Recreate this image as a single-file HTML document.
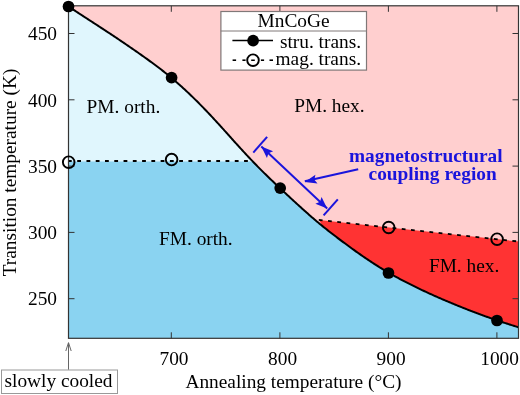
<!DOCTYPE html>
<html><head><meta charset="utf-8"><style>
html,body{margin:0;padding:0;background:#fff;}
svg{display:block;will-change:transform;font-family:"Liberation Serif",serif;font-size:19.35px;}
</style></head><body>
<svg width="520" height="395" viewBox="0 0 520 395">
<defs><clipPath id="c"><rect x="68.5" y="5.8" width="450.0" height="332.5"/></clipPath></defs>
<rect x="68.5" y="5.8" width="450.0" height="332.5" fill="#ffcfcf"/>
<g clip-path="url(#c)">
<path d="M66.50,5.21 L67.50,5.87 L68.50,6.52 L69.50,7.18 L70.50,7.83 L71.50,8.49 L72.50,9.14 L73.50,9.80 L74.50,10.45 L75.50,11.10 L76.50,11.76 L77.50,12.41 L78.50,13.06 L79.50,13.72 L80.50,14.37 L81.50,15.02 L82.50,15.68 L83.50,16.33 L84.50,16.98 L85.50,17.63 L86.50,18.28 L87.50,18.93 L88.50,19.58 L89.50,20.23 L90.50,20.88 L91.50,21.53 L92.50,22.18 L93.50,22.83 L94.50,23.48 L95.50,24.13 L96.50,24.78 L97.50,25.43 L98.50,26.08 L99.50,26.74 L100.50,27.39 L101.50,28.04 L102.50,28.69 L103.50,29.35 L104.50,30.00 L105.50,30.66 L106.50,31.32 L107.50,31.97 L108.50,32.63 L109.50,33.29 L110.50,33.95 L111.50,34.62 L112.50,35.28 L113.50,35.95 L114.50,36.61 L115.50,37.28 L116.50,37.95 L117.50,38.62 L118.50,39.29 L119.50,39.97 L120.50,40.64 L121.50,41.32 L122.50,41.99 L123.50,42.67 L124.50,43.35 L125.50,44.03 L126.50,44.71 L127.50,45.39 L128.50,46.08 L129.50,46.76 L130.50,47.45 L131.50,48.14 L132.50,48.83 L133.50,49.52 L134.50,50.21 L135.50,50.90 L136.50,51.60 L137.50,52.30 L138.50,53.00 L139.50,53.70 L140.50,54.40 L141.50,55.11 L142.50,55.81 L143.50,56.52 L144.50,57.24 L145.50,57.95 L146.50,58.67 L147.50,59.39 L148.50,60.11 L149.50,60.84 L150.50,61.57 L151.50,62.30 L152.50,63.04 L153.50,63.77 L154.50,64.52 L155.50,65.26 L156.50,66.01 L157.50,66.77 L158.50,67.53 L159.50,68.29 L160.50,69.06 L161.50,69.83 L162.50,70.61 L163.50,71.40 L164.50,72.19 L165.50,72.98 L166.50,73.78 L167.50,74.59 L168.50,75.40 L169.50,76.22 L170.50,77.05 L171.50,77.88 L172.50,78.72 L173.50,79.57 L174.50,80.43 L175.50,81.29 L176.50,82.16 L177.50,83.03 L178.50,83.91 L179.50,84.80 L180.50,85.69 L181.50,86.60 L182.50,87.50 L183.50,88.42 L184.50,89.33 L185.50,90.26 L186.50,91.19 L187.50,92.13 L188.50,93.07 L189.50,94.02 L190.50,94.97 L191.50,95.94 L192.50,96.90 L193.50,97.87 L194.50,98.85 L195.50,99.84 L196.50,100.83 L197.50,101.82 L198.50,102.82 L199.50,103.83 L200.50,104.84 L201.50,105.86 L202.50,106.89 L203.50,107.92 L204.50,108.95 L205.50,110.00 L206.50,111.04 L207.50,112.09 L208.50,113.15 L209.50,114.21 L210.50,115.27 L211.50,116.34 L212.50,117.41 L213.50,118.49 L214.50,119.57 L215.50,120.66 L216.50,121.75 L217.50,122.84 L218.50,123.93 L219.50,125.03 L220.50,126.13 L221.50,127.24 L222.50,128.34 L223.50,129.45 L224.50,130.56 L225.50,131.68 L226.50,132.79 L227.50,133.91 L228.50,135.02 L229.50,136.14 L230.50,137.25 L231.50,138.37 L232.50,139.48 L233.50,140.59 L234.50,141.71 L235.50,142.82 L236.50,143.92 L237.50,145.03 L238.50,146.13 L239.50,147.23 L240.50,148.33 L241.50,149.42 L242.50,150.51 L243.50,151.60 L244.50,152.68 L245.50,153.76 L246.50,154.83 L247.50,155.90 L248.50,156.97 L249.50,158.03 L250.50,159.08 L251.50,160.14 L252.50,161.18 L253.50,162.23 L254.50,163.26 L255.50,164.30 L256.50,165.32 L257.50,166.35 L258.50,167.36 L259.50,168.37 L260.50,169.38 L261.50,170.38 L262.50,171.38 L263.50,172.37 L264.50,173.35 L265.50,174.33 L266.50,175.31 L267.50,176.28 L268.50,177.25 L269.50,178.22 L270.50,179.18 L271.50,180.13 L272.50,181.09 L273.50,182.04 L274.50,182.99 L275.50,183.94 L276.50,184.88 L277.50,185.83 L278.50,186.77 L279.50,187.71 L280.50,188.64 L281.50,189.58 L282.50,190.52 L283.50,191.45 L284.50,192.39 L285.50,193.32 L286.50,194.25 L287.50,195.18 L288.50,196.10 L289.50,197.03 L290.50,197.95 L291.50,198.88 L292.50,199.80 L293.50,200.72 L294.50,201.63 L295.50,202.55 L296.50,203.46 L297.50,204.38 L298.50,205.29 L299.50,206.19 L300.50,207.10 L301.50,208.00 L302.50,208.90 L303.50,209.80 L304.50,210.70 L305.50,211.59 L306.50,212.48 L307.50,213.37 L308.50,214.25 L309.50,215.13 L310.50,216.01 L311.50,216.88 L312.50,217.74 L313.50,218.61 L314.50,219.46 L315.50,220.32 L316.50,221.16 L317.50,222.01 L318.50,222.84 L319.50,223.68 L320.50,224.50 L321.50,225.32 L322.50,226.14 L323.50,226.95 L324.50,227.75 L325.50,228.55 L326.50,229.34 L327.50,230.13 L328.50,230.92 L329.50,231.70 L330.50,232.48 L331.50,233.25 L332.50,234.02 L333.50,234.79 L334.50,235.55 L335.50,236.31 L336.50,237.07 L337.50,237.83 L338.50,238.58 L339.50,239.33 L340.50,240.08 L341.50,240.83 L342.50,241.58 L343.50,242.33 L344.50,243.07 L345.50,243.81 L346.50,244.55 L347.50,245.29 L348.50,246.02 L349.50,246.76 L350.50,247.49 L351.50,248.22 L352.50,248.94 L353.50,249.66 L354.50,250.38 L355.50,251.10 L356.50,251.81 L357.50,252.52 L358.50,253.23 L359.50,253.94 L360.50,254.64 L361.50,255.34 L362.50,256.03 L363.50,256.72 L364.50,257.41 L365.50,258.09 L366.50,258.77 L367.50,259.44 L368.50,260.12 L369.50,260.78 L370.50,261.45 L371.50,262.10 L372.50,262.76 L373.50,263.41 L374.50,264.06 L375.50,264.70 L376.50,265.34 L377.50,265.97 L378.50,266.60 L379.50,267.23 L380.50,267.85 L381.50,268.46 L382.50,269.08 L383.50,269.68 L384.50,270.29 L385.50,270.88 L386.50,271.48 L387.50,272.07 L388.50,272.65 L389.50,273.23 L390.50,273.80 L391.50,274.37 L392.50,274.94 L393.50,275.50 L394.50,276.06 L395.50,276.61 L396.50,277.16 L397.50,277.70 L398.50,278.24 L399.50,278.78 L400.50,279.32 L401.50,279.85 L402.50,280.37 L403.50,280.90 L404.50,281.42 L405.50,281.93 L406.50,282.45 L407.50,282.96 L408.50,283.47 L409.50,283.98 L410.50,284.48 L411.50,284.98 L412.50,285.48 L413.50,285.97 L414.50,286.46 L415.50,286.95 L416.50,287.44 L417.50,287.93 L418.50,288.41 L419.50,288.89 L420.50,289.37 L421.50,289.84 L422.50,290.31 L423.50,290.78 L424.50,291.25 L425.50,291.71 L426.50,292.18 L427.50,292.64 L428.50,293.10 L429.50,293.55 L430.50,294.01 L431.50,294.46 L432.50,294.91 L433.50,295.36 L434.50,295.81 L435.50,296.25 L436.50,296.69 L437.50,297.13 L438.50,297.57 L439.50,298.01 L440.50,298.44 L441.50,298.88 L442.50,299.31 L443.50,299.74 L444.50,300.17 L445.50,300.59 L446.50,301.02 L447.50,301.44 L448.50,301.86 L449.50,302.28 L450.50,302.70 L451.50,303.12 L452.50,303.53 L453.50,303.94 L454.50,304.36 L455.50,304.77 L456.50,305.17 L457.50,305.58 L458.50,305.99 L459.50,306.39 L460.50,306.79 L461.50,307.19 L462.50,307.59 L463.50,307.99 L464.50,308.38 L465.50,308.78 L466.50,309.17 L467.50,309.56 L468.50,309.95 L469.50,310.34 L470.50,310.72 L471.50,311.11 L472.50,311.49 L473.50,311.87 L474.50,312.25 L475.50,312.63 L476.50,313.01 L477.50,313.38 L478.50,313.76 L479.50,314.13 L480.50,314.50 L481.50,314.87 L482.50,315.24 L483.50,315.61 L484.50,315.97 L485.50,316.33 L486.50,316.69 L487.50,317.05 L488.50,317.41 L489.50,317.76 L490.50,318.12 L491.50,318.47 L492.50,318.82 L493.50,319.16 L494.50,319.51 L495.50,319.85 L496.50,320.19 L497.50,320.53 L498.50,320.87 L499.50,321.20 L500.50,321.53 L501.50,321.86 L502.50,322.19 L503.50,322.52 L504.50,322.84 L505.50,323.17 L506.50,323.49 L507.50,323.81 L508.50,324.13 L509.50,324.45 L510.50,324.77 L511.50,325.09 L512.50,325.41 L513.50,325.72 L514.50,326.04 L515.50,326.35 L516.50,326.67 L517.50,326.98 L518.50,327.30 L519.50,327.61 L520.50,327.93 L520.5,340.3 L66.5,340.3 Z" fill="#8ad3f1"/>
<path d="M66.50,5.21 L67.50,5.87 L68.50,6.52 L69.50,7.18 L70.50,7.83 L71.50,8.49 L72.50,9.14 L73.50,9.80 L74.50,10.45 L75.50,11.10 L76.50,11.76 L77.50,12.41 L78.50,13.06 L79.50,13.72 L80.50,14.37 L81.50,15.02 L82.50,15.68 L83.50,16.33 L84.50,16.98 L85.50,17.63 L86.50,18.28 L87.50,18.93 L88.50,19.58 L89.50,20.23 L90.50,20.88 L91.50,21.53 L92.50,22.18 L93.50,22.83 L94.50,23.48 L95.50,24.13 L96.50,24.78 L97.50,25.43 L98.50,26.08 L99.50,26.74 L100.50,27.39 L101.50,28.04 L102.50,28.69 L103.50,29.35 L104.50,30.00 L105.50,30.66 L106.50,31.32 L107.50,31.97 L108.50,32.63 L109.50,33.29 L110.50,33.95 L111.50,34.62 L112.50,35.28 L113.50,35.95 L114.50,36.61 L115.50,37.28 L116.50,37.95 L117.50,38.62 L118.50,39.29 L119.50,39.97 L120.50,40.64 L121.50,41.32 L122.50,41.99 L123.50,42.67 L124.50,43.35 L125.50,44.03 L126.50,44.71 L127.50,45.39 L128.50,46.08 L129.50,46.76 L130.50,47.45 L131.50,48.14 L132.50,48.83 L133.50,49.52 L134.50,50.21 L135.50,50.90 L136.50,51.60 L137.50,52.30 L138.50,53.00 L139.50,53.70 L140.50,54.40 L141.50,55.11 L142.50,55.81 L143.50,56.52 L144.50,57.24 L145.50,57.95 L146.50,58.67 L147.50,59.39 L148.50,60.11 L149.50,60.84 L150.50,61.57 L151.50,62.30 L152.50,63.04 L153.50,63.77 L154.50,64.52 L155.50,65.26 L156.50,66.01 L157.50,66.77 L158.50,67.53 L159.50,68.29 L160.50,69.06 L161.50,69.83 L162.50,70.61 L163.50,71.40 L164.50,72.19 L165.50,72.98 L166.50,73.78 L167.50,74.59 L168.50,75.40 L169.50,76.22 L170.50,77.05 L171.50,77.88 L172.50,78.72 L173.50,79.57 L174.50,80.43 L175.50,81.29 L176.50,82.16 L177.50,83.03 L178.50,83.91 L179.50,84.80 L180.50,85.69 L181.50,86.60 L182.50,87.50 L183.50,88.42 L184.50,89.33 L185.50,90.26 L186.50,91.19 L187.50,92.13 L188.50,93.07 L189.50,94.02 L190.50,94.97 L191.50,95.94 L192.50,96.90 L193.50,97.87 L194.50,98.85 L195.50,99.84 L196.50,100.83 L197.50,101.82 L198.50,102.82 L199.50,103.83 L200.50,104.84 L201.50,105.86 L202.50,106.89 L203.50,107.92 L204.50,108.95 L205.50,110.00 L206.50,111.04 L207.50,112.09 L208.50,113.15 L209.50,114.21 L210.50,115.27 L211.50,116.34 L212.50,117.41 L213.50,118.49 L214.50,119.57 L215.50,120.66 L216.50,121.75 L217.50,122.84 L218.50,123.93 L219.50,125.03 L220.50,126.13 L221.50,127.24 L222.50,128.34 L223.50,129.45 L224.50,130.56 L225.50,131.68 L226.50,132.79 L227.50,133.91 L228.50,135.02 L229.50,136.14 L230.50,137.25 L231.50,138.37 L232.50,139.48 L233.50,140.59 L234.50,141.71 L235.50,142.82 L236.50,143.92 L237.50,145.03 L238.50,146.13 L239.50,147.23 L240.50,148.33 L241.50,149.42 L242.50,150.51 L243.50,151.60 L244.50,152.68 L245.50,153.76 L246.50,154.83 L247.50,155.90 L248.50,156.97 L249.50,158.03 L250.50,159.08 L251.50,160.14 L252.50,161.18 L252.50,161.60 L66.50,161.60 Z" fill="#e0f6fd"/>
<path d="M319.30,220.00 L520.50,241.74 L520.50,327.93 L520.50,327.93 L519.50,327.61 L518.50,327.30 L517.50,326.98 L516.50,326.67 L515.50,326.35 L514.50,326.04 L513.50,325.72 L512.50,325.41 L511.50,325.09 L510.50,324.77 L509.50,324.45 L508.50,324.13 L507.50,323.81 L506.50,323.49 L505.50,323.17 L504.50,322.84 L503.50,322.52 L502.50,322.19 L501.50,321.86 L500.50,321.53 L499.50,321.20 L498.50,320.87 L497.50,320.53 L496.50,320.19 L495.50,319.85 L494.50,319.51 L493.50,319.16 L492.50,318.82 L491.50,318.47 L490.50,318.12 L489.50,317.76 L488.50,317.41 L487.50,317.05 L486.50,316.69 L485.50,316.33 L484.50,315.97 L483.50,315.61 L482.50,315.24 L481.50,314.87 L480.50,314.50 L479.50,314.13 L478.50,313.76 L477.50,313.38 L476.50,313.01 L475.50,312.63 L474.50,312.25 L473.50,311.87 L472.50,311.49 L471.50,311.11 L470.50,310.72 L469.50,310.34 L468.50,309.95 L467.50,309.56 L466.50,309.17 L465.50,308.78 L464.50,308.38 L463.50,307.99 L462.50,307.59 L461.50,307.19 L460.50,306.79 L459.50,306.39 L458.50,305.99 L457.50,305.58 L456.50,305.17 L455.50,304.77 L454.50,304.36 L453.50,303.94 L452.50,303.53 L451.50,303.12 L450.50,302.70 L449.50,302.28 L448.50,301.86 L447.50,301.44 L446.50,301.02 L445.50,300.59 L444.50,300.17 L443.50,299.74 L442.50,299.31 L441.50,298.88 L440.50,298.44 L439.50,298.01 L438.50,297.57 L437.50,297.13 L436.50,296.69 L435.50,296.25 L434.50,295.81 L433.50,295.36 L432.50,294.91 L431.50,294.46 L430.50,294.01 L429.50,293.55 L428.50,293.10 L427.50,292.64 L426.50,292.18 L425.50,291.71 L424.50,291.25 L423.50,290.78 L422.50,290.31 L421.50,289.84 L420.50,289.37 L419.50,288.89 L418.50,288.41 L417.50,287.93 L416.50,287.44 L415.50,286.95 L414.50,286.46 L413.50,285.97 L412.50,285.48 L411.50,284.98 L410.50,284.48 L409.50,283.98 L408.50,283.47 L407.50,282.96 L406.50,282.45 L405.50,281.93 L404.50,281.42 L403.50,280.90 L402.50,280.37 L401.50,279.85 L400.50,279.32 L399.50,278.78 L398.50,278.24 L397.50,277.70 L396.50,277.16 L395.50,276.61 L394.50,276.06 L393.50,275.50 L392.50,274.94 L391.50,274.37 L390.50,273.80 L389.50,273.23 L388.50,272.65 L387.50,272.07 L386.50,271.48 L385.50,270.88 L384.50,270.29 L383.50,269.68 L382.50,269.08 L381.50,268.46 L380.50,267.85 L379.50,267.23 L378.50,266.60 L377.50,265.97 L376.50,265.34 L375.50,264.70 L374.50,264.06 L373.50,263.41 L372.50,262.76 L371.50,262.10 L370.50,261.45 L369.50,260.78 L368.50,260.12 L367.50,259.44 L366.50,258.77 L365.50,258.09 L364.50,257.41 L363.50,256.72 L362.50,256.03 L361.50,255.34 L360.50,254.64 L359.50,253.94 L358.50,253.23 L357.50,252.52 L356.50,251.81 L355.50,251.10 L354.50,250.38 L353.50,249.66 L352.50,248.94 L351.50,248.22 L350.50,247.49 L349.50,246.76 L348.50,246.02 L347.50,245.29 L346.50,244.55 L345.50,243.81 L344.50,243.07 L343.50,242.33 L342.50,241.58 L341.50,240.83 L340.50,240.08 L339.50,239.33 L338.50,238.58 L337.50,237.83 L336.50,237.07 L335.50,236.31 L334.50,235.55 L333.50,234.79 L332.50,234.02 L331.50,233.25 L330.50,232.48 L329.50,231.70 L328.50,230.92 L327.50,230.13 L326.50,229.34 L325.50,228.55 L324.50,227.75 L323.50,226.95 L322.50,226.14 L321.50,225.32 Z" fill="#ff3333"/>
<line x1="67.93" y1="161.0" x2="251.00" y2="161.0" stroke="#000" stroke-width="1.8" stroke-dasharray="3.8,5.47"/>
<line x1="314.50" y1="219.48" x2="520.5" y2="241.74" stroke="#000" stroke-width="1.8" stroke-dasharray="3.8,5.47" stroke-dashoffset="4.94"/>
<path d="M66.50,5.21 L67.50,5.87 L68.50,6.52 L69.50,7.18 L70.50,7.83 L71.50,8.49 L72.50,9.14 L73.50,9.80 L74.50,10.45 L75.50,11.10 L76.50,11.76 L77.50,12.41 L78.50,13.06 L79.50,13.72 L80.50,14.37 L81.50,15.02 L82.50,15.68 L83.50,16.33 L84.50,16.98 L85.50,17.63 L86.50,18.28 L87.50,18.93 L88.50,19.58 L89.50,20.23 L90.50,20.88 L91.50,21.53 L92.50,22.18 L93.50,22.83 L94.50,23.48 L95.50,24.13 L96.50,24.78 L97.50,25.43 L98.50,26.08 L99.50,26.74 L100.50,27.39 L101.50,28.04 L102.50,28.69 L103.50,29.35 L104.50,30.00 L105.50,30.66 L106.50,31.32 L107.50,31.97 L108.50,32.63 L109.50,33.29 L110.50,33.95 L111.50,34.62 L112.50,35.28 L113.50,35.95 L114.50,36.61 L115.50,37.28 L116.50,37.95 L117.50,38.62 L118.50,39.29 L119.50,39.97 L120.50,40.64 L121.50,41.32 L122.50,41.99 L123.50,42.67 L124.50,43.35 L125.50,44.03 L126.50,44.71 L127.50,45.39 L128.50,46.08 L129.50,46.76 L130.50,47.45 L131.50,48.14 L132.50,48.83 L133.50,49.52 L134.50,50.21 L135.50,50.90 L136.50,51.60 L137.50,52.30 L138.50,53.00 L139.50,53.70 L140.50,54.40 L141.50,55.11 L142.50,55.81 L143.50,56.52 L144.50,57.24 L145.50,57.95 L146.50,58.67 L147.50,59.39 L148.50,60.11 L149.50,60.84 L150.50,61.57 L151.50,62.30 L152.50,63.04 L153.50,63.77 L154.50,64.52 L155.50,65.26 L156.50,66.01 L157.50,66.77 L158.50,67.53 L159.50,68.29 L160.50,69.06 L161.50,69.83 L162.50,70.61 L163.50,71.40 L164.50,72.19 L165.50,72.98 L166.50,73.78 L167.50,74.59 L168.50,75.40 L169.50,76.22 L170.50,77.05 L171.50,77.88 L172.50,78.72 L173.50,79.57 L174.50,80.43 L175.50,81.29 L176.50,82.16 L177.50,83.03 L178.50,83.91 L179.50,84.80 L180.50,85.69 L181.50,86.60 L182.50,87.50 L183.50,88.42 L184.50,89.33 L185.50,90.26 L186.50,91.19 L187.50,92.13 L188.50,93.07 L189.50,94.02 L190.50,94.97 L191.50,95.94 L192.50,96.90 L193.50,97.87 L194.50,98.85 L195.50,99.84 L196.50,100.83 L197.50,101.82 L198.50,102.82 L199.50,103.83 L200.50,104.84 L201.50,105.86 L202.50,106.89 L203.50,107.92 L204.50,108.95 L205.50,110.00 L206.50,111.04 L207.50,112.09 L208.50,113.15 L209.50,114.21 L210.50,115.27 L211.50,116.34 L212.50,117.41 L213.50,118.49 L214.50,119.57 L215.50,120.66 L216.50,121.75 L217.50,122.84 L218.50,123.93 L219.50,125.03 L220.50,126.13 L221.50,127.24 L222.50,128.34 L223.50,129.45 L224.50,130.56 L225.50,131.68 L226.50,132.79 L227.50,133.91 L228.50,135.02 L229.50,136.14 L230.50,137.25 L231.50,138.37 L232.50,139.48 L233.50,140.59 L234.50,141.71 L235.50,142.82 L236.50,143.92 L237.50,145.03 L238.50,146.13 L239.50,147.23 L240.50,148.33 L241.50,149.42 L242.50,150.51 L243.50,151.60 L244.50,152.68 L245.50,153.76 L246.50,154.83 L247.50,155.90 L248.50,156.97 L249.50,158.03 L250.50,159.08 L251.50,160.14 L252.50,161.18 L253.50,162.23 L254.50,163.26 L255.50,164.30 L256.50,165.32 L257.50,166.35 L258.50,167.36 L259.50,168.37 L260.50,169.38 L261.50,170.38 L262.50,171.38 L263.50,172.37 L264.50,173.35 L265.50,174.33 L266.50,175.31 L267.50,176.28 L268.50,177.25 L269.50,178.22 L270.50,179.18 L271.50,180.13 L272.50,181.09 L273.50,182.04 L274.50,182.99 L275.50,183.94 L276.50,184.88 L277.50,185.83 L278.50,186.77 L279.50,187.71 L280.50,188.64 L281.50,189.58 L282.50,190.52 L283.50,191.45 L284.50,192.39 L285.50,193.32 L286.50,194.25 L287.50,195.18 L288.50,196.10 L289.50,197.03 L290.50,197.95 L291.50,198.88 L292.50,199.80 L293.50,200.72 L294.50,201.63 L295.50,202.55 L296.50,203.46 L297.50,204.38 L298.50,205.29 L299.50,206.19 L300.50,207.10 L301.50,208.00 L302.50,208.90 L303.50,209.80 L304.50,210.70 L305.50,211.59 L306.50,212.48 L307.50,213.37 L308.50,214.25 L309.50,215.13 L310.50,216.01 L311.50,216.88 L312.50,217.74 L313.50,218.61 L314.50,219.46 L315.50,220.32 L316.50,221.16 L317.50,222.01 L318.50,222.84 L319.50,223.68 L320.50,224.50 L321.50,225.32 L322.50,226.14 L323.50,226.95 L324.50,227.75 L325.50,228.55 L326.50,229.34 L327.50,230.13 L328.50,230.92 L329.50,231.70 L330.50,232.48 L331.50,233.25 L332.50,234.02 L333.50,234.79 L334.50,235.55 L335.50,236.31 L336.50,237.07 L337.50,237.83 L338.50,238.58 L339.50,239.33 L340.50,240.08 L341.50,240.83 L342.50,241.58 L343.50,242.33 L344.50,243.07 L345.50,243.81 L346.50,244.55 L347.50,245.29 L348.50,246.02 L349.50,246.76 L350.50,247.49 L351.50,248.22 L352.50,248.94 L353.50,249.66 L354.50,250.38 L355.50,251.10 L356.50,251.81 L357.50,252.52 L358.50,253.23 L359.50,253.94 L360.50,254.64 L361.50,255.34 L362.50,256.03 L363.50,256.72 L364.50,257.41 L365.50,258.09 L366.50,258.77 L367.50,259.44 L368.50,260.12 L369.50,260.78 L370.50,261.45 L371.50,262.10 L372.50,262.76 L373.50,263.41 L374.50,264.06 L375.50,264.70 L376.50,265.34 L377.50,265.97 L378.50,266.60 L379.50,267.23 L380.50,267.85 L381.50,268.46 L382.50,269.08 L383.50,269.68 L384.50,270.29 L385.50,270.88 L386.50,271.48 L387.50,272.07 L388.50,272.65 L389.50,273.23 L390.50,273.80 L391.50,274.37 L392.50,274.94 L393.50,275.50 L394.50,276.06 L395.50,276.61 L396.50,277.16 L397.50,277.70 L398.50,278.24 L399.50,278.78 L400.50,279.32 L401.50,279.85 L402.50,280.37 L403.50,280.90 L404.50,281.42 L405.50,281.93 L406.50,282.45 L407.50,282.96 L408.50,283.47 L409.50,283.98 L410.50,284.48 L411.50,284.98 L412.50,285.48 L413.50,285.97 L414.50,286.46 L415.50,286.95 L416.50,287.44 L417.50,287.93 L418.50,288.41 L419.50,288.89 L420.50,289.37 L421.50,289.84 L422.50,290.31 L423.50,290.78 L424.50,291.25 L425.50,291.71 L426.50,292.18 L427.50,292.64 L428.50,293.10 L429.50,293.55 L430.50,294.01 L431.50,294.46 L432.50,294.91 L433.50,295.36 L434.50,295.81 L435.50,296.25 L436.50,296.69 L437.50,297.13 L438.50,297.57 L439.50,298.01 L440.50,298.44 L441.50,298.88 L442.50,299.31 L443.50,299.74 L444.50,300.17 L445.50,300.59 L446.50,301.02 L447.50,301.44 L448.50,301.86 L449.50,302.28 L450.50,302.70 L451.50,303.12 L452.50,303.53 L453.50,303.94 L454.50,304.36 L455.50,304.77 L456.50,305.17 L457.50,305.58 L458.50,305.99 L459.50,306.39 L460.50,306.79 L461.50,307.19 L462.50,307.59 L463.50,307.99 L464.50,308.38 L465.50,308.78 L466.50,309.17 L467.50,309.56 L468.50,309.95 L469.50,310.34 L470.50,310.72 L471.50,311.11 L472.50,311.49 L473.50,311.87 L474.50,312.25 L475.50,312.63 L476.50,313.01 L477.50,313.38 L478.50,313.76 L479.50,314.13 L480.50,314.50 L481.50,314.87 L482.50,315.24 L483.50,315.61 L484.50,315.97 L485.50,316.33 L486.50,316.69 L487.50,317.05 L488.50,317.41 L489.50,317.76 L490.50,318.12 L491.50,318.47 L492.50,318.82 L493.50,319.16 L494.50,319.51 L495.50,319.85 L496.50,320.19 L497.50,320.53 L498.50,320.87 L499.50,321.20 L500.50,321.53 L501.50,321.86 L502.50,322.19 L503.50,322.52 L504.50,322.84 L505.50,323.17 L506.50,323.49 L507.50,323.81 L508.50,324.13 L509.50,324.45 L510.50,324.77 L511.50,325.09 L512.50,325.41 L513.50,325.72 L514.50,326.04 L515.50,326.35 L516.50,326.67 L517.50,326.98 L518.50,327.30 L519.50,327.61 L520.50,327.93" fill="none" stroke="#000" stroke-width="2"/>
</g>
<rect x="68.5" y="5.8" width="450.0" height="332.5" fill="none" stroke="#333" stroke-width="1.2"/>
<line x1="68.5" y1="33.5" x2="74.5" y2="33.5" stroke="#333" stroke-width="1"/>
<line x1="518.5" y1="33.5" x2="512.5" y2="33.5" stroke="#333" stroke-width="1"/>
<text x="57" y="40.2" text-anchor="end">450</text>
<line x1="68.5" y1="99.8" x2="74.5" y2="99.8" stroke="#333" stroke-width="1"/>
<line x1="518.5" y1="99.8" x2="512.5" y2="99.8" stroke="#333" stroke-width="1"/>
<text x="57" y="106.5" text-anchor="end">400</text>
<line x1="68.5" y1="166.1" x2="74.5" y2="166.1" stroke="#333" stroke-width="1"/>
<line x1="518.5" y1="166.1" x2="512.5" y2="166.1" stroke="#333" stroke-width="1"/>
<text x="57" y="172.79999999999998" text-anchor="end">350</text>
<line x1="68.5" y1="232.4" x2="74.5" y2="232.4" stroke="#333" stroke-width="1"/>
<line x1="518.5" y1="232.4" x2="512.5" y2="232.4" stroke="#333" stroke-width="1"/>
<text x="57" y="239.1" text-anchor="end">300</text>
<line x1="68.5" y1="298.7" x2="74.5" y2="298.7" stroke="#333" stroke-width="1"/>
<line x1="518.5" y1="298.7" x2="512.5" y2="298.7" stroke="#333" stroke-width="1"/>
<text x="57" y="305.4" text-anchor="end">250</text>
<line x1="171.3" y1="338.3" x2="171.3" y2="332.3" stroke="#333" stroke-width="1"/>
<line x1="171.3" y1="5.8" x2="171.3" y2="11.8" stroke="#333" stroke-width="1"/>
<text x="174.0" y="364.8" text-anchor="middle">700</text>
<line x1="279.9" y1="338.3" x2="279.9" y2="332.3" stroke="#333" stroke-width="1"/>
<line x1="279.9" y1="5.8" x2="279.9" y2="11.8" stroke="#333" stroke-width="1"/>
<text x="282.59999999999997" y="364.8" text-anchor="middle">800</text>
<line x1="388.4" y1="338.3" x2="388.4" y2="332.3" stroke="#333" stroke-width="1"/>
<line x1="388.4" y1="5.8" x2="388.4" y2="11.8" stroke="#333" stroke-width="1"/>
<text x="391.09999999999997" y="364.8" text-anchor="middle">900</text>
<line x1="496.9" y1="338.3" x2="496.9" y2="332.3" stroke="#333" stroke-width="1"/>
<line x1="496.9" y1="5.8" x2="496.9" y2="11.8" stroke="#333" stroke-width="1"/>
<text x="499.59999999999997" y="364.8" text-anchor="middle">1000</text>
<circle cx="68.5" cy="6.5" r="5.85" fill="#000"/>
<circle cx="171.6" cy="77.7" r="5.85" fill="#000"/>
<circle cx="280.2" cy="188.1" r="5.85" fill="#000"/>
<circle cx="388.5" cy="273" r="5.85" fill="#000"/>
<circle cx="497" cy="320.5" r="5.85" fill="#000"/>
<circle cx="68.7" cy="162.2" r="5.8" fill="none" stroke="#000" stroke-width="1.9"/>
<circle cx="171.6" cy="159.6" r="5.8" fill="none" stroke="#000" stroke-width="1.9"/>
<circle cx="388.7" cy="227.5" r="5.8" fill="none" stroke="#000" stroke-width="1.9"/>
<circle cx="497.1" cy="239.2" r="5.8" fill="none" stroke="#000" stroke-width="1.9"/>
<text x="86.6" y="112.5">PM. orth.</text>
<text x="294.2" y="112.1">PM. hex.</text>
<text x="159" y="245.1">FM. orth.</text>
<text x="428.9" y="271.6">FM. hex.</text>
<g stroke="#1a14dc" stroke-width="2" fill="none" stroke-linecap="butt">
<line x1="253.3" y1="152.6" x2="267.1" y2="136.9"/>
<line x1="323.6" y1="215.3" x2="337.8" y2="199.3"/>
<line x1="261.3" y1="146.4" x2="327.2" y2="208.6"/>
<line x1="358.2" y1="169.2" x2="304.8" y2="181.3"/>
</g>
<path d="M261.3,146.4 L266.94,157.91 L268.46,153.15 L273.12,151.36 Z" fill="#1a14dc"/>
<path d="M327.2,208.6 L321.56,197.09 L320.04,201.85 L315.38,203.64 Z" fill="#1a14dc"/>
<path d="M304.8,182.0 L317.52,183.58 L314.37,179.71 L315.42,174.83 Z" fill="#1a14dc"/>
<text x="349" y="162.2" font-weight="bold" fill="#1a14dc">magnetostructural</text>
<text x="368.6" y="180.3" font-weight="bold" fill="#1a14dc">coupling region</text>
<rect x="220.9" y="11.5" width="145.6" height="58.599999999999994" fill="#fff" stroke="#807878" stroke-width="1.2"/>
<line x1="220.7" y1="31" x2="366.5" y2="31" stroke="#807878" stroke-width="1"/>
<text x="293.6" y="27.3" text-anchor="middle">MnCoGe</text>
<line x1="232.4" y1="40.5" x2="273" y2="40.5" stroke="#000" stroke-width="1.6"/>
<circle cx="253.1" cy="40.7" r="5.85" fill="#000"/>
<line x1="232.6" y1="60.2" x2="236.1" y2="60.2" stroke="#000" stroke-width="1.6"/>
<line x1="242.4" y1="60.2" x2="245.6" y2="60.2" stroke="#000" stroke-width="1.6"/>
<line x1="260.9" y1="60.2" x2="264.1" y2="60.2" stroke="#000" stroke-width="1.6"/>
<line x1="269.5" y1="60.2" x2="273.0" y2="60.2" stroke="#000" stroke-width="1.6"/>
<circle cx="253" cy="60.2" r="5.8" fill="#fff" stroke="#000" stroke-width="1.9"/>
<line x1="248" y1="60.2" x2="258" y2="60.2" stroke="#000" stroke-width="1.6" stroke-dasharray="0,3.2,3.6,10"/>
<text x="361" y="47.6" text-anchor="end">stru. trans.</text>
<text x="361" y="65.3" text-anchor="end">mag. trans.</text>
<text x="293.5" y="387.8" text-anchor="middle">Annealing temperature (°C)</text>
<text transform="translate(16,172.5) rotate(-90)" text-anchor="middle">Transition temperature (K)</text>
<line x1="68.5" y1="343" x2="68.5" y2="369.8" stroke="#666" stroke-width="1"/>
<polyline points="65.8,351 68.5,342.6 71.2,351" fill="none" stroke="#666" stroke-width="1"/>
<rect x="1.5" y="370" width="116" height="23.5" fill="#fff" stroke="#999" stroke-width="1"/>
<text x="4.5" y="386.5">slowly cooled</text>
</svg></body></html>
